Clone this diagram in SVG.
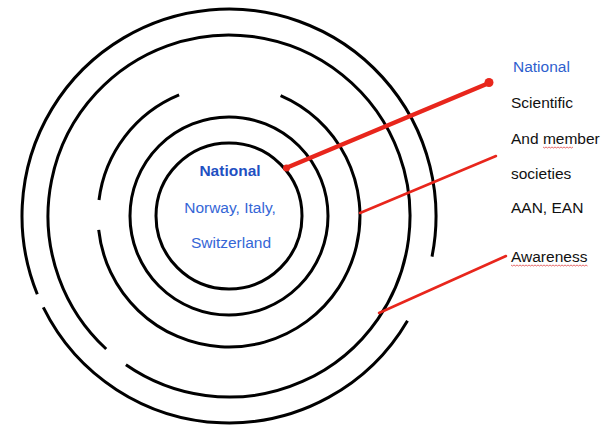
<svg xmlns="http://www.w3.org/2000/svg" width="615" height="427" viewBox="0 0 615 427">
<style>
.ring{fill:none;stroke:#000;stroke-width:3}
.red{fill:none;stroke:#e8261c;stroke-linecap:round}
.t{font-family:"Liberation Sans",Arial,sans-serif;font-size:15.5px;fill:#111}
.blue{fill:#3566d6}
.bb{font-weight:bold;fill:#1f50c2}
.sq{fill:none;stroke:#e04848;stroke-width:1;opacity:0.8}
</style>
<rect width="615" height="427" fill="#fff"/>
<g id="ring5">
<path class="ring" d="M407.5,320.7 A207,207 0 0 1 43.3,307.4"/>
<path class="ring" d="M37.3,294.2 A207,207 0 1 1 432.0,256.6"/>
</g>
<g id="ring4">
<path class="ring" d="M106.2,349.0 A181,181 0 1 1 125.9,364.8"/>
</g>
<g id="ring3">
<path class="ring" d="M280.6,95.6 A131,131 0 1 1 98.7,229.9"/>
<path class="ring" d="M99.0,200.0 A131,131 0 0 1 179.1,94.9"/>
</g>
<g id="ring2">
<circle class="ring" cx="229" cy="216" r="99"/>
</g>
<g id="ring1">
<circle class="ring" cx="229" cy="216" r="73"/>
<text class="t bb" x="230" y="176" text-anchor="middle">National</text>
<text class="t blue" x="230" y="213" text-anchor="middle">Norway, Italy,</text>
<text class="t blue" x="231" y="248" text-anchor="middle">Switzerland</text>
</g>
<g id="connectors">
<path class="red" stroke-width="4.5" d="M286,168 L489,83"/>
<circle cx="489" cy="82.5" r="4.5" fill="#e8261c"/>
<circle cx="286.5" cy="168" r="3.5" fill="#e8261c"/>
<path class="red" stroke-width="2.5" d="M360,213 L496,156"/>
<path class="red" stroke-width="2.5" d="M379,313 L506,256"/>
</g>
<g id="legend">
<text class="t" x="513" y="72" style="fill:#2f5fce">National</text>
<text class="t" x="511" y="108">Scientific</text>
<text class="t" x="511" y="144">And member</text>
<path class="sq" d="M543,147 l1.5,1 l1.5,-1 l1.5,1 l1.5,-1 l1.5,1 l1.5,-1 l1.5,1 l1.5,-1 l1.5,1 l1.5,-1 l1.5,1 l1.5,-1 l1.5,1 l1.5,-1 l1.5,1 l1.5,-1 l1.5,1 l1.5,-1 l1.5,1 l1.5,-1"/>
<text class="t" x="511" y="179">societies</text>
<text class="t" x="511" y="213">AAN, EAN</text>
<text class="t" x="511" y="262">Awareness</text>
<path class="sq" d="M511,265 l1.5,1 l1.5,-1 l1.5,1 l1.5,-1 l1.5,1 l1.5,-1 l1.5,1 l1.5,-1 l1.5,1 l1.5,-1 l1.5,1 l1.5,-1 l1.5,1 l1.5,-1 l1.5,1 l1.5,-1 l1.5,1 l1.5,-1 l1.5,1 l1.5,-1 l1.5,1 l1.5,-1 l1.5,1 l1.5,-1 l1.5,1 l1.5,-1 l1.5,1 l1.5,-1 l1.5,1 l1.5,-1 l1.5,1 l1.5,-1 l1.5,1 l1.5,-1 l1.5,1 l1.5,-1 l1.5,1 l1.5,-1 l1.5,1 l1.5,-1 l1.5,1 l1.5,-1 l1.5,1 l1.5,-1 l1.5,1 l1.5,-1 l1.5,1 l1.5,-1 l1.5,1 l1.5,-1 l1.5,1"/>
</g>
</svg>
